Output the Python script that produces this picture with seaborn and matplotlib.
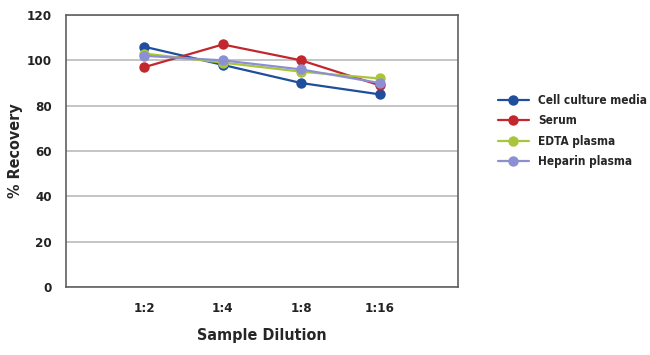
import pandas as pd
import seaborn as sns
import matplotlib.pyplot as plt

# data
dilutions = ["1:2", "1:4", "1:8", "1:16"]
cell_culture = [106, 98, 90, 85]
serum = [97, 107, 100, 89]
edta = [103, 99, 95, 92]
heparin = [102, 100, 96, 90]

series = {
    "Cell culture media": cell_culture,
    "Serum": serum,
    "EDTA plasma": edta,
    "Heparin plasma": heparin,
}
palette = {
    "Cell culture media": "#1F4E9C",
    "Serum": "#C1272D",
    "EDTA plasma": "#A9C63B",
    "Heparin plasma": "#8C90D2",
}

rows = []
for name, vals in series.items():
    for i, (d, v) in enumerate(zip(dilutions, vals)):
        rows.append({"pos": i, "Dilution": d, "Recovery": v, "Sample": name})
df = pd.DataFrame(rows)

sns.set_style("white")
plt.rcParams["font.family"] = ["DejaVu Sans"]
plt.rcParams["font.stretch"] = "condensed"
plt.rcParams["font.weight"] = "bold"

fig = plt.figure(figsize=(6.5, 3.55), dpi=100)
ax = fig.add_axes([0.1015, 0.1915, 0.603, 0.7662])

sns.lineplot(data=df, x="pos", y="Recovery", hue="Sample", palette=palette,
             marker="o", markersize=7.5, markeredgewidth=0, linewidth=1.6,
             ax=ax, legend=True)

ax.set_xlim(-1, 4)
ax.set_ylim(0, 120)
ax.set_yticks(range(0, 121, 20))
ax.set_xticks(range(len(dilutions)))
ax.set_xticklabels(dilutions)
ax.yaxis.grid(True, color="#b4b4b4", linewidth=1.1)
ax.set_axisbelow(True)
for s in ax.spines.values():
    s.set_color("#606060")
    s.set_linewidth(1.2)
ax.tick_params(axis="both", labelsize=9.5, colors="#222222", length=4,
               width=1, direction="out")
ax.tick_params(axis="x", length=3, pad=8, color="#888888")
ax.tick_params(axis="y", color="#606060", pad=6)

ax.set_xlabel("Sample Dilution", fontsize=11.5, fontweight="bold", labelpad=9)
ax.set_ylabel("% Recovery", fontsize=11.5, fontweight="bold")
ax.yaxis.set_label_coords(-0.11, 0.5)

leg = ax.legend(loc="upper left", bbox_to_anchor=(1.09, 0.727), frameon=False,
                fontsize=8.5, handlelength=2.6, labelspacing=0.62,
                handletextpad=0.8, borderaxespad=0)
for t in leg.get_texts():
    t.set_fontweight("bold")

fig.savefig("out.png", dpi=100)
